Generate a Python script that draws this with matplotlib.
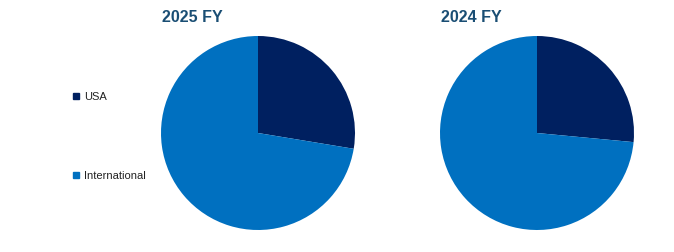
import matplotlib.pyplot as plt

labels = ['USA', 'International']
share_2025 = [27.6, 72.4]
share_2024 = [26.5, 73.5]
titles = ['2025 FY', '2024 FY']
colors = ['#002060', '#0070C0']

W, H = 674, 253
fig = plt.figure(figsize=(W/100, H/100), dpi=100)

centers = [(258, 134), (537, 134)]
r = 97
for (cx, cy), vals, title in zip(centers, [share_2025, share_2024], titles):
    ax = fig.add_axes([(cx-r)/W, (H-cy-r)/H, 2*r/W, 2*r/H])
    ax.pie(vals, colors=colors, startangle=90, counterclock=False,
           wedgeprops=dict(linewidth=0))
    ax.set_xlim(-1, 1)
    ax.set_ylim(-1, 1)
    ax.set_aspect('equal')
    fig.text((cx-66)/W, 1-17/H, title, ha='center', va='center',
             fontsize=11.5, fontweight='bold', color='#1A4E74',
             family=['Liberation Sans', 'DejaVu Sans'])

# legend on the left
for lab, col, y in zip(labels, colors, [97, 176]):
    fig.patches.append(plt.Rectangle((73/W, 1-(y+3)/H), 6/W, 6/H,
                                     transform=fig.transFigure,
                                     color=col, figure=fig))
    fig.text(84/W, 1-y/H, lab, ha='left', va='center', fontsize=8,
             color='#222222',
             family=['Liberation Sans Narrow', 'Liberation Sans'])

fig.savefig('out.png', dpi=100)
